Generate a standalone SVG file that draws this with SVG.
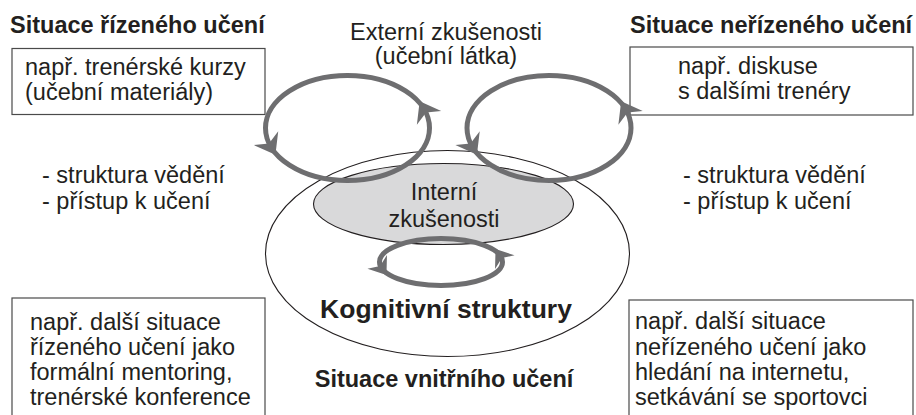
<svg xmlns="http://www.w3.org/2000/svg" xmlns:xlink="http://www.w3.org/1999/xlink" width="916" height="415" viewBox="0 0 916 415">
<style>
text{font-family:"Liberation Sans",Arial,sans-serif;font-size:23.5px;fill:#231f20}
.b{font-weight:bold}
.box{fill:#fff;stroke:#4a4a4a;stroke-width:1.2}
.loop{fill:none;stroke:#6e6e70;stroke-width:5}
.ah{fill:#6e6e70}
.thin{stroke:#231f20;stroke-width:1.1}
</style>
<defs>
<path id="ah" d="M10,0 L-9,-14 L-3,0 L-9,14 Z"/>
</defs>
<rect width="916" height="415" fill="#fff"/>

<g id="title-left"><text class="b" x="10" y="33">Situace řízeného učení</text></g>
<g id="title-right"><text class="b" x="630" y="33">Situace neřízeného učení</text></g>

<g id="box-top-left">
<rect class="box" x="12" y="48.5" width="253" height="66"/>
<text x="25" y="75">např. trenérské kurzy</text>
<text x="25" y="100">(učební materiály)</text>
</g>
<g id="box-top-right">
<rect class="box" x="630" y="47" width="283" height="68"/>
<text x="678" y="74">např. diskuse</text>
<text x="678" y="99">s dalšími trenéry</text>
</g>

<g id="external">
<text x="446" y="40" text-anchor="middle">Externí zkušenosti</text>
<text x="446" y="64" text-anchor="middle">(učební látka)</text>
</g>

<g id="list-left">
<text x="42" y="183">- struktura vědění</text>
<text x="42" y="209">- přístup k učení</text>
</g>
<g id="list-right">
<text x="683" y="183">- struktura vědění</text>
<text x="683" y="209">- přístup k učení</text>
</g>

<g id="cognitive">
<ellipse class="thin" cx="447.5" cy="253.5" rx="182" ry="103" fill="#fff"/>
<text class="b" x="446" y="318" text-anchor="middle" style="font-size:26.5px">Kognitivní struktury</text>
</g>
<g id="internal">
<ellipse class="thin" cx="443.5" cy="204" rx="130" ry="40.5" fill="#d9d9da"/>
<text x="444" y="200" text-anchor="middle">Interní</text>
<text x="444" y="227" text-anchor="middle">zkušenosti</text>
</g>

<g id="connectors">
<g id="loop-left">
<ellipse class="loop" cx="347.5" cy="128" rx="82" ry="52.5"/>
<use xlink:href="#ah" class="ah" transform="translate(424.6,110) rotate(-119.6)"/>
<use xlink:href="#ah" class="ah" transform="translate(270.5,146) rotate(60.4)"/>
</g>
<g id="loop-right">
<ellipse class="loop" cx="549" cy="128" rx="82" ry="52.5"/>
<use xlink:href="#ah" class="ah" transform="translate(626.1,110) rotate(-119.6)"/>
<use xlink:href="#ah" class="ah" transform="translate(472,146) rotate(60.4)"/>
</g>
<g id="loop-small">
<ellipse class="loop" cx="441" cy="262" rx="61.5" ry="23.5"/>
<use xlink:href="#ah" class="ah" transform="translate(500.4,255.9) rotate(-125) scale(0.85)"/>
<use xlink:href="#ah" class="ah" transform="translate(381.6,268.1) rotate(55) scale(0.85)"/>
</g>
</g>

<g id="inner-label"><text class="b" x="444" y="387" text-anchor="middle">Situace vnitřního učení</text></g>

<g id="box-bottom-left">
<rect class="box" x="12" y="298" width="253" height="130"/>
<text x="30" y="330">např. další situace</text>
<text x="30" y="355">řízeného učení jako</text>
<text x="30" y="380">formální mentoring,</text>
<text x="30" y="405">trenérské konference</text>
</g>
<g id="box-bottom-right">
<rect class="box" x="629" y="300" width="284" height="130"/>
<text x="635" y="329">např. další situace</text>
<text x="635" y="355">neřízeného učení jako</text>
<text x="635" y="380">hledání na internetu,</text>
<text x="635" y="405">setkávání se sportovci</text>
</g>
</svg>
